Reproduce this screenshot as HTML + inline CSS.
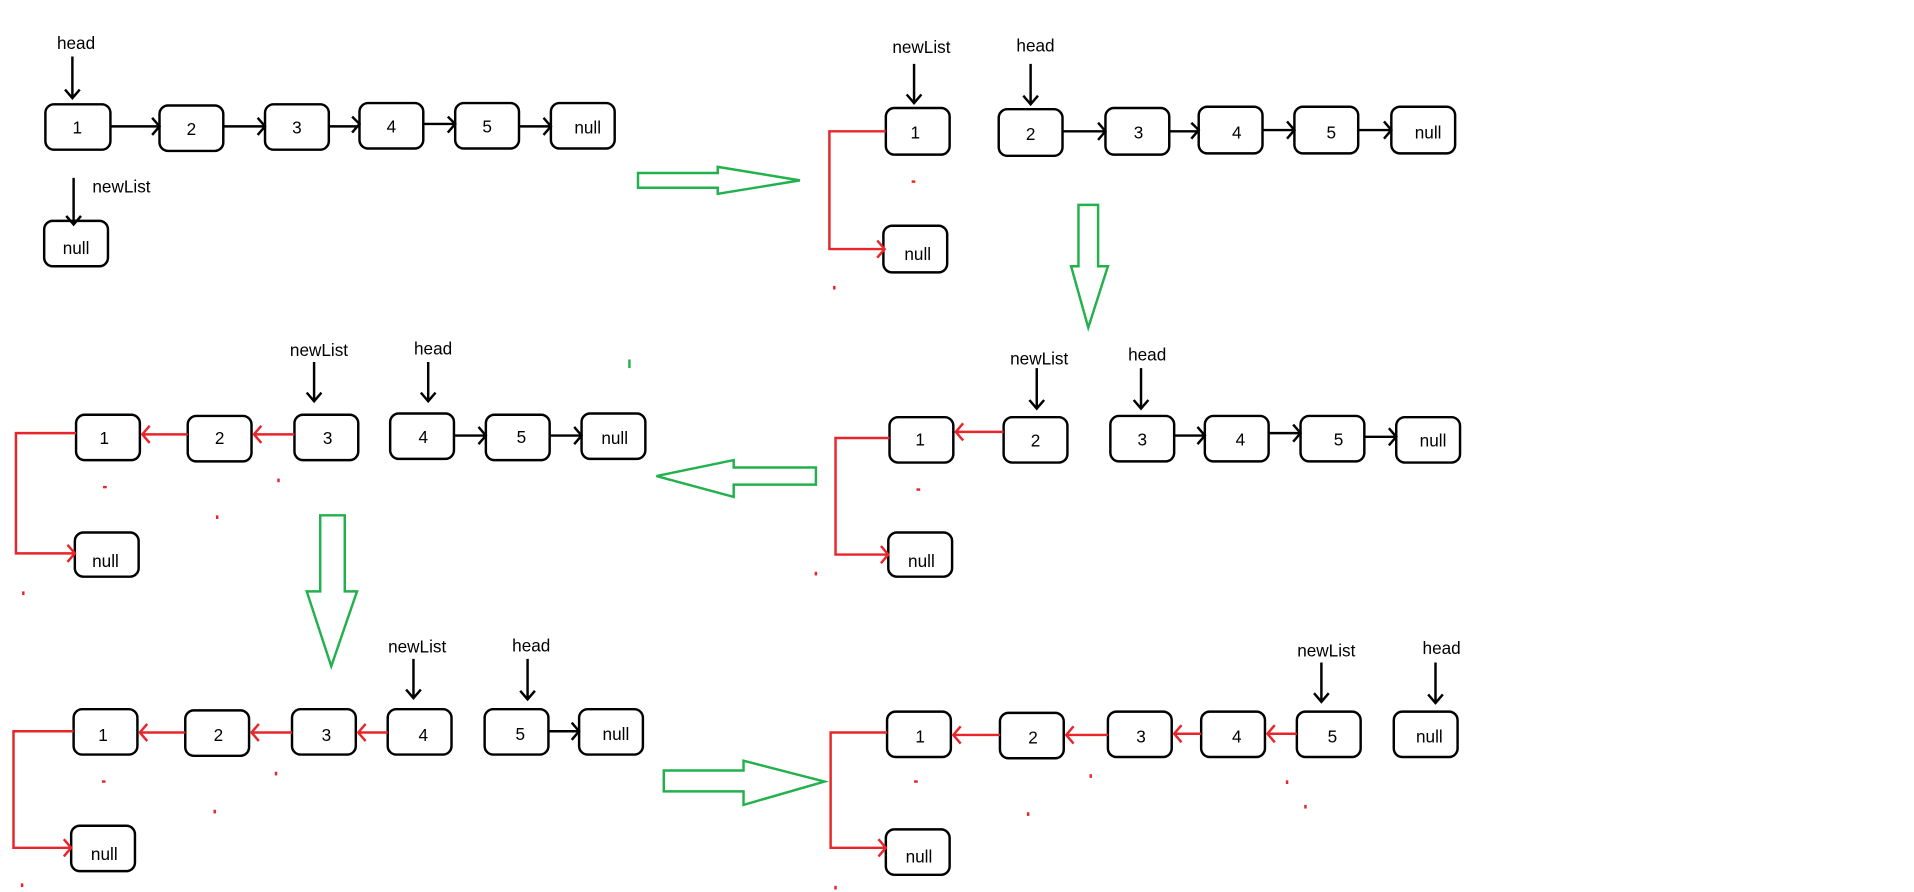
<!DOCTYPE html>
<html><head><meta charset="utf-8"><style>
html,body{margin:0;padding:0;background:#fff;width:1914px;height:892px;overflow:hidden}
svg{display:block}
text{font-family:"Liberation Sans",sans-serif;font-size:14px;fill:#000}
</style></head><body>
<svg width="1914" height="892" viewBox="0 0 1560 727" xmlns="http://www.w3.org/2000/svg">
<defs>
<g id="ah"><path d="M-6,-6 L0,0 L-6,6" fill="none" stroke-width="2"/></g>
</defs>
<g fill="none" stroke="#000" stroke-width="2">
<!-- Panel 1 -->
<rect x="37" y="85" width="53" height="37" rx="7"/>
<rect x="130" y="86" width="52" height="37" rx="7"/>
<rect x="216" y="85" width="52" height="37" rx="7"/>
<rect x="293" y="84" width="52" height="37" rx="7"/>
<rect x="371" y="84" width="52" height="37" rx="7"/>
<rect x="449" y="84" width="52" height="37" rx="7"/>
<rect x="36" y="180" width="52" height="37" rx="7"/>
<path d="M90,103H130M182,103H216M268,103H293M345,101H371M423,103H449"/>
<path d="M124,96L130,103L124,110M210,96L216,103L210,110M287,95L293,101L287,108M365,95L371,101L365,108M443,96L449,103L443,110"/>
<path d="M59,46V80M53,73L59,80L65,73"/>
<path d="M60,145V183M54,176L60,183L66,176"/>
<!-- Panel 2 -->
<rect x="722" y="88" width="52" height="38" rx="7"/>
<rect x="814" y="89" width="52" height="38" rx="7"/>
<rect x="901" y="88" width="52" height="38" rx="7"/>
<rect x="977" y="87" width="52" height="38" rx="7"/>
<rect x="1055" y="87" width="52" height="38" rx="7"/>
<rect x="1134" y="87" width="52" height="38" rx="7"/>
<rect x="720" y="184" width="52" height="38" rx="7"/>
<path d="M866,107H901M953,107H977M1029,106H1055M1107,106H1134"/>
<path d="M895,100L901,107L895,114M971,100L977,106L971,113M1049,99L1055,106L1049,113M1128,99L1134,106L1128,113"/>
<path d="M745,52V84M739,77L745,84L751,77M840,52V85M834,78L840,85L846,78"/>
<!-- Panel 3 -->
<rect x="725" y="340" width="52" height="37" rx="7"/>
<rect x="818" y="340" width="52" height="37" rx="7"/>
<rect x="905" y="339" width="52" height="37" rx="7"/>
<rect x="982" y="339" width="52" height="37" rx="7"/>
<rect x="1060" y="339" width="52" height="37" rx="7"/>
<rect x="1138" y="340" width="52" height="37" rx="7"/>
<rect x="724" y="434" width="52" height="36" rx="7"/>
<path d="M957,355H982M1034,353H1060M1112,356H1138"/>
<path d="M976,348L982,355L976,362M1054,346L1060,353L1054,360M1132,349L1138,356L1132,363"/>
<path d="M845,300V333M839,326L845,333L851,326M930,300V333M924,326L930,333L936,326"/>
<!-- Panel 4 -->
<rect x="62" y="338" width="52" height="37" rx="7"/>
<rect x="153" y="339" width="52" height="37" rx="7"/>
<rect x="240" y="338" width="52" height="37" rx="7"/>
<rect x="318" y="337" width="52" height="37" rx="7"/>
<rect x="396" y="338" width="52" height="37" rx="7"/>
<rect x="474" y="337" width="52" height="37" rx="7"/>
<rect x="61" y="434" width="52" height="36" rx="7"/>
<path d="M370,355H396M448,355H474"/>
<path d="M390,348L396,355L390,362M468,348L474,355L468,362"/>
<path d="M256,295V327M250,320L256,327L262,320M349,295V327M343,320L349,327L355,320"/>
<!-- Panel 5 -->
<rect x="60" y="578" width="52" height="37" rx="7"/>
<rect x="151" y="579" width="52" height="37" rx="7"/>
<rect x="238" y="578" width="52" height="37" rx="7"/>
<rect x="316" y="578" width="52" height="37" rx="7"/>
<rect x="395" y="578" width="52" height="37" rx="7"/>
<rect x="472" y="578" width="52" height="37" rx="7"/>
<rect x="58" y="673" width="52" height="37" rx="7"/>
<path d="M447,596H472M466,589L472,596L466,603"/>
<path d="M337,537V569M331,562L337,569L343,562M430,537V570M424,563L430,570L436,563"/>
<!-- Panel 6 -->
<rect x="723" y="580" width="52" height="37" rx="7"/>
<rect x="815" y="581" width="52" height="37" rx="7"/>
<rect x="903" y="580" width="52" height="37" rx="7"/>
<rect x="979" y="580" width="52" height="37" rx="7"/>
<rect x="1057" y="580" width="52" height="37" rx="7"/>
<rect x="1136" y="580" width="52" height="37" rx="7"/>
<rect x="722" y="676" width="52" height="37" rx="7"/>
<path d="M1077,540V572M1071,565L1077,572L1083,565M1170,540V573M1164,566L1170,573L1176,566"/>
</g>
<!-- red arrows -->
<g fill="none" stroke="#e8262a" stroke-width="2">
<path d="M722,107H676V203H721M715,196L721,203L715,210"/>
<path d="M725,357H681V452H724M718,445L724,452L718,459M818,352H779M785,345L779,352L785,359"/>
<path d="M62,353H13V451H61M55,444L61,451L55,458M153,354H116M122,347L116,354L122,361M240,354H207M213,347L207,354L213,361"/>
<path d="M60,596H11V691H58M52,684L58,691L52,698M151,597H114M120,590L114,597L120,604M238,597H205M211,590L205,597L211,604M316,597H292M298,590L292,597L298,604"/>
<path d="M723,597H677V691H722M716,684L722,691L716,698M815,599H777M783,592L777,599L783,606M903,599H869M875,592L869,599L875,606M979,598H957M963,591L957,598L963,605M1057,598H1033M1039,591L1033,598L1039,605"/>
</g>
<g fill="#e8262a">
<rect x="743" y="147" width="3" height="2"/><rect x="679" y="233" width="2" height="3"/>
<rect x="747" y="398" width="3" height="2"/><rect x="664" y="466" width="2" height="3"/>
<rect x="84" y="396" width="3" height="2"/><rect x="176" y="420" width="2" height="3"/><rect x="226" y="390" width="2" height="3"/><rect x="18" y="482" width="2" height="3"/>
<rect x="83" y="636" width="3" height="2"/><rect x="174" y="660" width="2" height="3"/><rect x="224" y="629" width="2" height="3"/><rect x="17" y="720" width="2" height="3"/>
<rect x="745" y="636" width="3" height="2"/><rect x="837" y="662" width="2" height="3"/><rect x="888" y="631" width="2" height="3"/><rect x="1048" y="636" width="2" height="3"/><rect x="1063" y="656" width="2" height="3"/><rect x="680" y="722" width="2" height="3"/>
</g>
<!-- green arrows -->
<g fill="none" stroke="#22b14c" stroke-width="2">
<path d="M520,141H585V136L652,147L585,158V153H520Z"/>
<path d="M879,167H895V217H903L887,267L873,217H879Z"/>
<path d="M665,381H598V375L535,388L598,405V395H665Z"/>
<path d="M261,420H281V482H291L270,543L250,482H261Z"/>
<path d="M541,628H606V620L672,637L606,656V645H541Z"/>
<path d="M513,293V300"/>
</g>
<g text-anchor="middle">
<text x="62" y="40">head</text><text x="99" y="157">newList</text>
<text x="63" y="109">1</text><text x="156" y="110">2</text><text x="242" y="109">3</text><text x="319" y="108">4</text><text x="397" y="108">5</text><text x="479" y="109">null</text>
<text x="62" y="207">null</text>
<text x="751" y="43">newList</text><text x="844" y="42">head</text>
<text x="746" y="113">1</text><text x="840" y="114">2</text><text x="928" y="113">3</text><text x="1008" y="113">4</text><text x="1085" y="113">5</text><text x="1164" y="113">null</text>
<text x="748" y="212">null</text>
<text x="847" y="297">newList</text><text x="935" y="294">head</text>
<text x="750" y="363">1</text><text x="844" y="364">2</text><text x="931" y="363">3</text><text x="1011" y="363">4</text><text x="1091" y="363">5</text><text x="1168" y="364">null</text>
<text x="751" y="462">null</text>
<text x="260" y="290">newList</text><text x="353" y="289">head</text>
<text x="85" y="362">1</text><text x="179" y="362">2</text><text x="267" y="362">3</text><text x="345" y="361">4</text><text x="425" y="361">5</text><text x="501" y="362">null</text>
<text x="86" y="462">null</text>
<text x="340" y="532">newList</text><text x="433" y="531">head</text>
<text x="84" y="604">1</text><text x="178" y="604">2</text><text x="266" y="604">3</text><text x="345" y="604">4</text><text x="424" y="603">5</text><text x="502" y="603">null</text>
<text x="85" y="701">null</text>
<text x="1081" y="535">newList</text><text x="1175" y="533">head</text>
<text x="750" y="605">1</text><text x="842" y="606">2</text><text x="930" y="605">3</text><text x="1008" y="605">4</text><text x="1086" y="605">5</text><text x="1165" y="605">null</text>
<text x="749" y="703">null</text>
</g>
</svg>
</body></html>
